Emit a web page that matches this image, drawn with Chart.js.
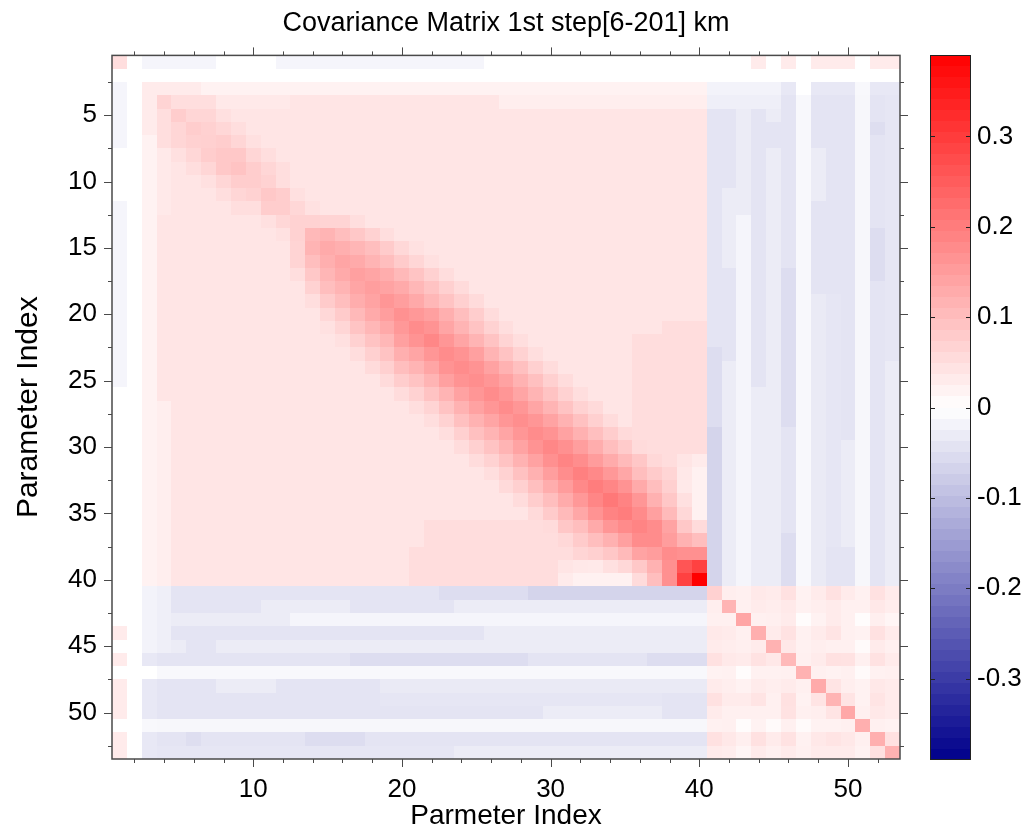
<!DOCTYPE html>
<html>
<head>
<meta charset="utf-8">
<title>Covariance Matrix</title>
<script src="https://cdn.jsdelivr.net/npm/chart.js@4.4.0/dist/chart.umd.min.js"></script>
<style>
    html, body { margin: 0; padding: 0; background: #fff; }
    #wrap { position: relative; width: 1026px; height: 833px; }
    #main { position: absolute; left: 0; top: 0; }
    #bar { position: absolute; left: 915px; top: 0; }
</style>
</head>
<body>
<div id="wrap">
    <canvas id="main" width="1026" height="833"></canvas>
    <canvas id="bar" width="111" height="833"></canvas>
</div>
<script>
/* ============================
   DATA
============================ */
const paramIndex = [1,2,3,4,5,6,7,8,9,10,11,12,13,14,15,16,17,18,19,20,21,22,23,24,25,26,27,28,29,30,31,32,33,34,35,36,37,38,39,40,41,42,43,44,45,46,47,48,49,50,51,52,53];
const xTickValues = [10, 20, 30, 40, 50];
const yTickValues = [5, 10, 15, 20, 25, 30, 35, 40, 45, 50];
const colorbarTicks = [-0.3, -0.2, -0.1, 0, 0.1, 0.2, 0.3];
const colorMin = -0.39;
const colorMax = 0.39;

// covariance[row][col], row = Parameter Index (y), col = Parmeter Index (x)
const covariance = [
[.05,0, -.015,-.015,-.015,-.015,-.015, 0,0,0,0, -.015,-.015,-.015,-.015,-.015,-.015,-.015, -.015,-.015,-.015,-.015,-.015,-.015,-.015, 0,0,0,0,0,0,0,0,0, 0,0,0,0,0,0,0,0,0, .03,0,.03,0,.03,.03,.03,0,.03,.03],
[0,0,0,0,0,0,0,0,0,0, 0,0,0,0,0,0,0,0,0,0, 0,0,0,0,0,0,0,0,0,0, 0,0,0,0,0,0,0,0,0,0, 0,0,0,0,0,0,0,0,0,0, 0,0,0],
[-.015,0, .031,.031,.031,.031, .02,.02,.02,.02,.02,.02,.02,.02,.02,.02, .02,.02,.02,.02,.02,.02,.02,.02,.02,.02, .02,.02,.02,.02,.02,.02,.02,.02,.02,.02, .02,.02,.02,.02, -.018,-.018,-.018,-.018,-.018,-.035,0,-.035,-.035,-.035,-.01,-.035,-.035],
[-.015,0, .031,.066,.05,.05,.05, .033,.033,.033,.033,.033, .04,.04,.04,.04,.04,.04,.04, .04,.04,.04,.04,.04,.04,.04, .026,.026,.026,.026,.026,.026,.026, .026,.026,.026,.026,.026,.026,.026, -.025,-.025,-.025,-.025,-.025,-.041,-.01,-.041,-.041,-.041,-.012,-.041,-.038],
[-.015,0, .031,.05,.076,.063,.063,.048, .04,.04,.04,.04,.04,.04,.04,.04,.04,.04, .04,.04,.04,.04,.04,.04,.04,.04,.04,.04, .04,.04,.04,.04,.04,.04,.04,.04,.04,.04, .04,.04, -.041,-.041,-.029,-.041,-.029,-.041,-.01,-.041,-.041,-.041,-.012,-.041,-.038],
[-.015,0, .031,.05,.063,.076,.07,.061,.05, .04,.04,.04,.04,.04,.04,.04,.04,.04,.04, .04,.04,.04,.04,.04,.04,.04,.04,.04,.04, .04,.04,.04,.04,.04,.04,.04,.04,.04,.04, .04, -.041,-.041,-.029,-.041,-.041,-.041,-.01,-.041,-.041,-.041,-.012,-.05,-.038],
[-.015,0, .02,.05,.063,.07,.072,.076,.063,.048, .04,.04,.04,.04,.04,.04,.04,.04,.04,.04, .04,.04,.04,.04,.04,.04,.04,.04,.04,.04, .04,.04,.04,.04,.04,.04,.04,.04,.04,.04, -.041,-.041,-.029,-.041,-.041,-.041,-.01,-.041,-.041,-.041,-.012,-.041,-.038],
[0,0, .02,.033,.048,.061,.076,.084,.084,.063,.05, .04,.04,.04,.04,.04,.04,.04,.04,.04,.04, .04,.04,.04,.04,.04,.04,.04,.04,.04,.04, .04,.04,.04,.04,.04,.04,.04,.04,.04, -.041,-.041,-.029,-.041,-.029,-.041,-.01,-.029,-.041,-.041,-.012,-.041,-.038],
[0,0, .02,.033,.04,.05,.063,.084,.092,.076,.063,.05, .04,.04,.04,.04,.04,.04,.04,.04,.04,.04, .04,.04,.04,.04,.04,.04,.04,.04,.04,.04, .04,.04,.04,.04,.04,.04,.04,.04, -.041,-.041,-.029,-.041,-.029,-.041,-.01,-.029,-.041,-.041,-.012,-.041,-.038],
[0,0, .02,.033,.04,.04,.048,.063,.076,.076,.069,.05, .04,.04,.04,.04,.04,.04,.04,.04,.04,.04, .04,.04,.04,.04,.04,.04,.04,.04,.04,.04, .04,.04,.04,.04,.04,.04,.04,.04, -.041,-.041,-.029,-.041,-.029,-.041,-.01,-.029,-.041,-.041,-.012,-.041,-.038],
[0,0, .02,.033,.04,.04,.04,.05,.063,.069,.084,.076,.048, .04,.04,.04,.04,.04,.04,.04,.04,.04,.04, .04,.04,.04,.04,.04,.04,.04,.04,.04,.04, .04,.04,.04,.04,.04,.04,.04, -.041,-.029,-.029,-.041,-.029,-.041,-.01,-.029,-.041,-.041,-.012,-.041,-.038],
[-.015,0, .02,.033,.04,.04,.04,.04,.05,.05,.076,.076,.061,.046, .04,.04,.04,.04,.04,.04,.04,.04,.04,.04, .04,.04,.04,.04,.04,.04,.04,.04,.04,.04, .04,.04,.04,.04,.04,.04, -.041,-.029,-.029,-.041,-.029,-.041,-.01,-.041,-.041,-.041,-.012,-.041,-.038],
[-.015,0, .02,.04,.04,.04,.04,.04,.04,.04,.048,.061,.069,.069,.066,.066,.05, .04,.04,.04,.04,.04,.04,.04,.04,.04,.04, .04,.04,.04,.04,.04,.04,.04,.04,.04,.04, .04,.04,.04, -.041,-.029,-.015,-.041,-.029,-.041,-.01,-.041,-.041,-.041,-.012,-.041,-.038],
[-.015,0, .02,.04,.04,.04,.04,.04,.04,.04,.04,.046,.069,.107,.115,.099,.084,.069,.05, .04,.04,.04,.04,.04,.04,.04,.04,.04,.04, .04,.04,.04,.04,.04,.04,.04,.04,.04,.04, .04, -.041,-.029,-.015,-.041,-.029,-.041,-.01,-.041,-.041,-.041,-.012,-.052,-.038],
[-.015,0, .02,.04,.04,.04,.04,.04,.04,.04,.04,.04, .066,.115,.13,.122,.111,.099,.08,.06,.046, .04,.04,.04,.04,.04,.04,.04,.04,.04,.04, .04,.04,.04,.04,.04,.04,.04,.04,.04, -.041,-.029,-.015,-.041,-.029,-.041,-.01,-.041,-.041,-.041,-.012,-.052,-.038],
[-.015,0, .02,.04,.04,.04,.04,.04,.04,.04,.04,.04, .066,.099,.122,.138,.13,.115,.1,.08,.063,.048, .04,.04,.04,.04,.04,.04,.04,.04,.04,.04, .04,.04,.04,.04,.04,.04,.04,.04, -.041,-.029,-.015,-.041,-.029,-.041,-.01,-.041,-.041,-.041,-.012,-.052,-.038],
[-.015,0, .02,.04,.04,.04,.04,.04,.04,.04,.04,.04, .05,.084,.111,.13,.145,.138,.125,.107,.09,.07,.052, .04,.04,.04,.04,.04,.04,.04,.04,.04,.04, .04,.04,.04,.04,.04,.04,.04, -.041,-.041,-.015,-.041,-.029,-.052,-.01,-.041,-.041,-.041,-.012,-.052,-.038],
[-.015,0, .02,.04,.04,.04,.04,.04,.04,.04,.04,.04,.04, .069,.099,.115,.138,.148,.14,.13,.11,.092,.072,.055, .04,.04,.04,.04,.04,.04,.04,.04,.04,.04, .04,.04,.04,.04,.04,.04, -.041,-.041,-.015,-.041,-.029,-.052,-.01,-.041,-.041,-.041,-.012,-.041,-.038],
[-.015,0, .02,.04,.04,.04,.04,.04,.04,.04,.04,.04,.04, .05,.08,.1,.125,.14,.161,.148,.132,.11,.092,.072,.055, .04,.04,.04,.04,.04,.04,.04,.04,.04,.04, .04,.04,.04,.04,.04, -.041,-.041,-.015,-.041,-.029,-.052,-.01,-.032,-.038,-.041,-.012,-.041,-.038],
[-.015,0, .02,.04,.04,.04,.04,.04,.04,.04,.04,.04,.04,.04, .06,.08,.107,.13,.148,.168,.158,.145,.122,.099,.076,.054, .04,.04,.04,.04,.04,.04,.04,.04,.04,.04, .04,.04,.04,.04, -.041,-.041,-.015,-.041,-.029,-.052,-.01,-.032,-.038,-.041,-.012,-.041,-.038],
[-.015,0, .02,.04,.04,.04,.04,.04,.04,.04,.04,.04,.04,.04, .046,.063,.09,.11,.132,.158,.176,.165,.138,.115,.092,.069,.05, .04,.04,.04,.04,.04,.04,.04,.04,.04,.04, .052,.052,.052, -.041,-.041,-.015,-.041,-.029,-.052,-.01,-.032,-.038,-.041,-.012,-.041,-.038],
[-.015,0, .02,.04,.04,.04,.04,.04,.04,.04,.04,.04,.04,.04,.04, .048,.07,.092,.11,.145,.165,.184,.16,.138,.115,.092,.066,.05, .04,.04,.04,.04,.04,.04,.04, .052,.052,.052,.052,.052, -.041,-.041,-.015,-.041,-.029,-.052,-.01,-.032,-.038,-.041,-.012,-.041,-.038],
[-.015,0, .02,.04,.04,.04,.04,.04,.04,.04,.04,.04,.04,.04,.04,.04, .052,.072,.092,.122,.138,.16,.176,.165,.145,.115,.092,.069,.05, .04,.04,.04,.04,.04,.04, .052,.052,.052,.052,.052, -.052,-.041,-.015,-.041,-.029,-.052,-.01,-.032,-.038,-.041,-.012,-.041,-.038],
[-.015,0, .02,.04,.04,.04,.04,.04,.04,.04,.04,.04,.04,.04,.04,.04,.04, .055,.072,.099,.115,.138,.165,.176,.165,.142,.118,.096,.072,.054, .04,.04,.04,.04,.04, .052,.052,.052,.052,.052, -.052,-.029,-.015,-.041,-.029,-.052,-.01,-.032,-.038,-.041,-.012,-.041,-.029],
[-.015,0, .02,.04,.04,.04,.04,.04,.04,.04,.04,.04,.04,.04,.04,.04,.04,.04, .055,.076,.092,.115,.145,.165,.173,.161,.142,.118,.096,.072,.054, .04,.04,.04,.04, .052,.052,.052,.052,.052, -.052,-.029,-.015,-.041,-.029,-.052,-.01,-.032,-.038,-.041,-.012,-.041,-.029],
[0,0, .02,.04,.04,.04,.04,.04,.04,.04,.04,.04,.04,.04,.04,.04,.04,.04,.04, .054,.069,.092,.115,.142,.161,.176,.161,.138,.115,.092,.069,.05, .04,.04,.04, .052,.052,.052,.052,.052, -.052,-.029,-.015,-.029,-.029,-.052,-.01,-.032,-.038,-.041,-.012,-.041,-.029],
[0,0, .02,.026, .04,.04,.04,.04,.04,.04,.04,.04,.04,.04,.04,.04,.04,.04,.04,.04, .05,.066,.092,.118,.142,.161,.176,.161,.138,.115,.092,.069,.056, .04,.04, .052,.052,.052,.052,.052, -.052,-.029,-.015,-.029,-.029,-.052,-.01,-.032,-.038,-.041,-.012,-.041,-.029],
[0,0, .02,.026, .04,.04,.04,.04,.04,.04,.04,.04,.04,.04,.04,.04,.04,.04,.04,.04,.04, .05,.069,.096,.118,.138,.161,.173,.161,.14,.118,.095,.072,.054, .04, .052,.052,.052,.052,.052, -.052,-.029,-.015,-.029,-.029,-.052,-.01,-.032,-.038,-.041,-.012,-.041,-.029],
[0,0, .02,.026, .04,.04,.04,.04,.04,.04,.04,.04,.04,.04,.04,.04,.04,.04,.04,.04,.04,.04, .05,.072,.096,.115,.138,.161,.176,.165,.142,.12,.098,.076,.056, .052,.052,.052,.052,.052, -.066,-.029,-.015,-.029,-.029,-.041,-.01,-.032,-.038,-.041,-.012,-.041,-.029],
[0,0, .02,.026, .04,.04,.04,.04,.04,.04,.04,.04,.04,.04,.04,.04,.04,.04,.04,.04,.04,.04,.04, .054,.072,.092,.115,.14,.165,.184,.17,.148,.125,.1,.08,.055,.052,.052,.052,.052, -.066,-.029,-.015,-.029,-.029,-.041,-.01,-.032,-.038,-.029,-.012,-.041,-.029],
[0,0, .02,.026, .04,.04,.04,.04,.04,.04,.04,.04,.04,.04,.04,.04,.04,.04,.04,.04,.04,.04,.04,.04, .054,.069,.092,.118,.142,.17,.188,.175,.152,.128,.105,.085,.06,.052,.04,.03, -.066,-.029,-.015,-.029,-.029,-.041,-.01,-.032,-.038,-.029,-.012,-.041,-.029],
[0,0, .02,.026, .04,.04,.04,.04,.04,.04,.04,.04,.04,.04,.04,.04,.04,.04,.04,.04,.04,.04,.04,.04,.04, .05,.069,.095,.12,.148,.175,.194,.18,.158,.135,.1,.08,.065,.035,.022, -.066,-.029,-.015,-.029,-.029,-.041,-.01,-.032,-.038,-.029,-.012,-.041,-.029],
[0,0, .02,.026, .04,.04,.04,.04,.04,.04,.04,.04,.04,.04,.04,.04,.04,.04,.04,.04,.04,.04,.04,.04,.04,.04, .056,.072,.098,.125,.152,.18,.199,.185,.165,.13,.1,.072,.033,.022, -.066,-.029,-.015,-.029,-.029,-.041,-.01,-.032,-.038,-.029,-.012,-.041,-.029],
[0,0, .02,.026, .04,.04,.04,.04,.04,.04,.04,.04,.04,.04,.04,.04,.04,.04,.04,.04,.04,.04,.04,.04,.04,.04,.04, .054,.076,.1,.128,.158,.185,.207,.19,.16,.12,.085,.048,.022, -.066,-.029,-.015,-.029,-.029,-.041,-.01,-.032,-.038,-.029,-.012,-.041,-.029],
[0,0, .02,.026, .04,.04,.04,.04,.04,.04,.04,.04,.04,.04,.04,.04,.04,.04,.04,.04,.04,.04,.04,.04,.04,.04,.04,.04, .056,.08,.105,.135,.165,.19,.199,.178,.145,.105,.06,.022, -.066,-.029,-.015,-.029,-.029,-.041,-.01,-.032,-.038,-.029,-.012,-.041,-.029],
[0,0, .02,.026, .04,.04,.04,.04,.04,.04,.04,.04,.04,.04,.04,.04,.04,.04,.04,.04,.04, .052,.052,.052,.052,.052,.052,.052,.052, .055,.085,.1,.13,.16,.178,.188,.176,.14,.084,.055, -.066,-.029,-.015,-.029,-.029,-.041,-.01,-.032,-.038,-.029,-.012,-.041,-.029],
[0,0, .02,.026, .04,.04,.04,.04,.04,.04,.04,.04,.04,.04,.04,.04,.04,.04,.04,.04,.04, .052,.052,.052,.052,.052,.052,.052,.052, .052,.06,.08,.1,.12,.145,.176,.176,.15,.118,.1, -.066,-.029,-.015,-.029,-.029,-.052,-.01,-.032,-.038,-.029,-.012,-.041,-.029],
[0,0, .02,.026, .04,.04,.04,.04,.04,.04,.04,.04,.04,.04,.04,.04,.04,.04,.04,.04, .052,.052,.052,.052,.052,.052,.052,.052,.052,.052, .052,.065,.072,.085,.105,.14,.15,.176,.17,.17, -.066,-.029,-.015,-.029,-.029,-.052,-.01,-.032,-.041,-.041,-.012,-.041,-.029],
[0,0, .02,.026, .04,.04,.04,.04,.04,.04,.04,.04,.04,.04,.04,.04,.04,.04,.04,.04, .052,.052,.052,.052,.052,.052,.052,.052,.052,.052, .04,.035,.033,.048,.06,.084,.118,.17,.26,.29, -.066,-.029,-.015,-.029,-.029,-.052,-.01,-.032,-.041,-.041,-.012,-.041,-.029],
[0,0, .02,.026, .04,.04,.04,.04,.04,.04,.04,.04,.04,.04,.04,.04,.04,.04,.04,.04, .052,.052,.052,.052,.052,.052,.052,.052,.052,.052, .03,.022,.022,.022,.022,.055,.1,.17,.29,.39, -.066,-.029,-.015,-.029,-.029,-.052,-.01,-.032,-.041,-.041,-.012,-.041,-.029],
[0,0, -.018,-.025, -.041,-.041,-.041,-.041,-.041,-.041,-.041,-.041,-.041, -.041,-.041,-.041,-.041,-.041,-.041,-.041,-.041,-.041, -.052,-.052,-.052,-.052,-.052,-.052, -.066,-.066,-.066,-.066,-.066,-.066,-.066,-.066,-.066,-.066,-.066,-.066, .07,.026,.023,.033,.031,.046,.02,.031,.046,.031,.022,.046,.031],
[0,0, -.018,-.025, -.041,-.041,-.041,-.041,-.041,-.041, -.029,-.029,-.029,-.029,-.029,-.029, -.041,-.041,-.041,-.041,-.041,-.041,-.041, -.029,-.029,-.029,-.029,-.029,-.029,-.029,-.029,-.029,-.029,-.029,-.029,-.029,-.029,-.029,-.029,-.029, .026,.115,.023,.031,.027,.033,.022,.026,.031,.023,.023,.035,.028],
[0,0, -.018,-.025, -.029,-.029,-.029,-.029,-.029,-.029,-.029,-.029, -.015,-.015,-.015,-.015,-.015,-.015,-.015,-.015,-.015,-.015,-.015,-.015,-.015,-.015, -.015,-.015,-.015,-.015,-.015,-.015,-.015,-.015,-.015,-.015,-.015,-.015,-.015,-.015, .023,.023,.138,.023,.024,.031,.005,.02,.031,.023,.005,.025,.015],
[.03,0, -.018,-.025, -.041,-.041,-.041,-.041,-.041,-.041,-.041,-.041,-.041,-.041,-.041, -.041,-.041,-.041,-.041,-.041,-.041,-.041,-.041,-.041,-.041, -.029,-.029,-.029,-.029,-.029,-.029,-.029,-.029,-.029,-.029,-.029,-.029,-.029,-.029,-.029, .033,.031,.023,.122,.031,.044,.022,.031,.041,.023,.02,.046,.031],
[0,0, -.018,-.025, -.029, -.041,-.041, -.029,-.029,-.029,-.029,-.029,-.029,-.029,-.029,-.029,-.029,-.029, -.029,-.029,-.029,-.029,-.029,-.029,-.029,-.029,-.029,-.029,-.029, -.029,-.029,-.029,-.029,-.029,-.029,-.029,-.029,-.029,-.029,-.029, .031,.027,.024,.031,.118,.035,.022,.026,.023,.023,.008,.031,.023],
[.03,0, -.035, -.041,-.041,-.041,-.041,-.041,-.041,-.041,-.041,-.041,-.041,-.041,-.041,-.041, -.052,-.052,-.052,-.052,-.052,-.052,-.052,-.052,-.052,-.052,-.052,-.052, -.041,-.041,-.041,-.041,-.041,-.041,-.041,-.041, -.052,-.052,-.052,-.052, .046,.033,.031,.044,.035,.107,.023,.031,.046,.044,.023,.044,.031],
[0,0, 0, -.01,-.01,-.01,-.01,-.01,-.01,-.01,-.01,-.01,-.01, -.01,-.01,-.01,-.01,-.01,-.01,-.01,-.01,-.01,-.01, -.01,-.01,-.01,-.01,-.01,-.01,-.01,-.01,-.01,-.01, -.01,-.01,-.01,-.01,-.01,-.01,-.01, .02,.022,.005,.022,.022,.023,.118,.023,.02,.023,.008,.022,.023],
[.03,0, -.035, -.041,-.041,-.041,-.041, -.029,-.029,-.029,-.029, -.041,-.041,-.041,-.041,-.041,-.041,-.041, -.032,-.032,-.032,-.032,-.032,-.032,-.032,-.032,-.032,-.032,-.032, -.032,-.032,-.032,-.032,-.032,-.032,-.032,-.032,-.032,-.032,-.032, .031,.026,.02,.031,.026,.031,.023,.13,.041,.026,.02,.035,.031],
[.03,0, -.035, -.041,-.041,-.041,-.041,-.041,-.041,-.041,-.041,-.041,-.041,-.041,-.041,-.041,-.041,-.041, -.038,-.038,-.038,-.038,-.038,-.038,-.038,-.038,-.038,-.038, -.038,-.038,-.038,-.038,-.038,-.038,-.038,-.038,-.038, -.041,-.041,-.041, .046,.031,.031,.041,.023,.046,.02,.041,.115,.041,.02,.041,.031],
[.03,0, -.035, -.041,-.041,-.041,-.041,-.041,-.041,-.041,-.041,-.041,-.041,-.041,-.041,-.041, -.041,-.041,-.041,-.041,-.041,-.041,-.041,-.041,-.041,-.041,-.041,-.041,-.041, -.029,-.029,-.029,-.029,-.029,-.029,-.029,-.029, -.041,-.041,-.041, .031,.023,.023,.023,.023,.044,.023,.026,.041,.133,.023,.035,.031],
[0,0, -.01, -.012,-.012,-.012,-.012,-.012,-.012,-.012,-.012,-.012,-.012, -.012,-.012,-.012,-.012,-.012,-.012,-.012,-.012,-.012,-.012, -.012,-.012,-.012,-.012,-.012,-.012,-.012,-.012,-.012,-.012, -.012,-.012,-.012,-.012,-.012,-.012,-.012, .022,.023,.005,.02,.008,.023,.008,.02,.02,.023,.122,.023,.02],
[.03,0, -.035, -.041,-.041, -.05, -.041,-.041,-.041,-.041,-.041,-.041,-.041, -.052,-.052,-.052,-.052, -.041,-.041,-.041,-.041,-.041,-.041,-.041,-.041,-.041,-.041,-.041,-.041, -.041,-.041,-.041,-.041,-.041,-.041,-.041,-.041,-.041,-.041,-.041, .046,.035,.025,.046,.031,.044,.022,.035,.041,.035,.023,.122,.046],
[.03,0, -.035, -.038,-.038,-.038,-.038,-.038,-.038,-.038,-.038,-.038,-.038, -.038,-.038,-.038,-.038,-.038,-.038,-.038,-.038,-.038,-.038, -.029,-.029,-.029,-.029,-.029,-.029,-.029,-.029,-.029, -.029,-.029,-.029,-.029,-.029,-.029,-.029,-.029, .031,.028,.015,.031,.023,.031,.023,.031,.031,.031,.02,.046,.118]
];

/* ============================
   COLOUR SCALE
============================ */
function covColor(v) {
    const t = Math.min(Math.abs(v) / colorMax, 1);
    if (v >= 0) {
        const g = Math.round(255 * (1 - t));
        return `rgb(255,${g},${g})`;
    }
    const c = Math.round(255 * (1 - t));
    const b = Math.round(255 - 116 * t);
    return `rgb(${c},${c},${b})`;
}

Chart.defaults.font.family = "'Liberation Sans', Arial, sans-serif";
Chart.defaults.color = "#000";

const cells = [];
covariance.forEach((row, r) => {
    row.forEach((v, c) => cells.push({ x: paramIndex[c], y: paramIndex[r], v }));
});

/* ============================
   PLUGINS
============================ */
const cellPlugin = {
    id: "cells",
    beforeDatasetsDraw(chart) {
        const { ctx, scales: { x, y } } = chart;
        ctx.save();
        chart.data.datasets[0].data.forEach(p => {
            const x0 = Math.round(x.getPixelForValue(p.x - 0.5));
            const x1 = Math.round(x.getPixelForValue(p.x + 0.5));
            const y0 = Math.round(y.getPixelForValue(p.y - 0.5));
            const y1 = Math.round(y.getPixelForValue(p.y + 0.5));
            ctx.fillStyle = covColor(p.v);
            ctx.fillRect(x0, Math.min(y0, y1), x1 - x0, Math.abs(y1 - y0));
        });
        ctx.restore();
    }
};

const framePlugin = {
    id: "frame",
    afterDraw(chart) {
        const { ctx, chartArea: a, scales: { x, y } } = chart;
        ctx.save();
        ctx.strokeStyle = "#4a4a4a";
        ctx.lineWidth = 1;
        ctx.beginPath();
        for (let v = 2; v <= 52; v += 2) {
            const px = Math.round(x.getPixelForValue(v)) + 0.5;
            const len = v % 10 === 0 ? 8 : 4;
            ctx.moveTo(px, a.bottom); ctx.lineTo(px, a.bottom + len);
            ctx.moveTo(px, a.top); ctx.lineTo(px, a.top - len);
        }
        for (let v = 2.5; v <= 53; v += 2.5) {
            const py = Math.round(y.getPixelForValue(v)) + 0.5;
            const len = v % 5 === 0 ? 8 : 4;
            ctx.moveTo(a.left, py); ctx.lineTo(a.left - len, py);
            ctx.moveTo(a.right, py); ctx.lineTo(a.right + len, py);
        }
        ctx.stroke();
        ctx.lineWidth = 1.5;
        ctx.strokeRect(a.left, a.top, a.right - a.left, a.bottom - a.top);
        ctx.restore();
    }
};

const colorbarPlugin = {
    id: "colorbar",
    beforeDraw(chart) {
        const { ctx, chartArea: a, scales: { y } } = chart;
        const levels = 64;
        const step = (colorMax - colorMin) / levels;
        ctx.save();
        for (let k = 0; k < levels; k++) {
            const lo = colorMin + k * step;
            const top = Math.round(y.getPixelForValue(lo + step));
            const bottom = Math.round(y.getPixelForValue(lo));
            ctx.fillStyle = covColor(lo + step / 2);
            ctx.fillRect(a.left, top, a.right - a.left, bottom - top);
        }
        ctx.strokeStyle = "#222";
        ctx.lineWidth = 1;
        ctx.strokeRect(a.left + 0.5, a.top + 0.5, a.right - a.left - 1, a.bottom - a.top - 1);
        ctx.beginPath();
        colorbarTicks.forEach(v => {
            const py = Math.round(y.getPixelForValue(v)) + 0.5;
            ctx.moveTo(a.left, py); ctx.lineTo(a.left + 5, py);
            ctx.moveTo(a.right, py); ctx.lineTo(a.right - 5, py);
        });
        ctx.stroke();
        ctx.restore();
    }
};

/* ============================
   MAIN HEATMAP
============================ */
new Chart(document.getElementById("main"), {
    type: "scatter",
    data: {
        datasets: [{ data: cells, pointRadius: 0, pointHoverRadius: 0, showLine: false }]
    },
    options: {
        responsive: false,
        animation: false,
        events: [],
        layout: { padding: { left: 0, right: 126, top: 0, bottom: 0 } },
        plugins: {
            legend: { display: false },
            tooltip: { enabled: false },
            title: {
                display: true,
                fullSize: false,
                text: "Covariance Matrix 1st step[6-201] km",
                font: { size: 27, weight: "normal" },
                color: "#000",
                padding: { top: 7, bottom: 16 }
            }
        },
        scales: {
            x: {
                type: "linear",
                position: "bottom",
                min: 0.5,
                max: 53.5,
                afterBuildTicks: s => { s.ticks = xTickValues.map(v => ({ value: v })); },
                afterFit: s => { s.height = 74; },
                grid: { display: false, drawTicks: false },
                border: { display: false },
                ticks: { font: { size: 26 }, padding: 15, maxRotation: 0, autoSkip: false },
                title: { display: true, text: "Parmeter Index", font: { size: 28 }, padding: { top: 0, bottom: 0 } }
            },
            y: {
                type: "linear",
                reverse: true,
                min: 0.5,
                max: 53.5,
                afterBuildTicks: s => { s.ticks = yTickValues.map(v => ({ value: v })); },
                afterFit: s => { s.width = 112; },
                grid: { display: false, drawTicks: false },
                border: { display: false },
                ticks: { font: { size: 26 }, padding: 15, autoSkip: false },
                title: { display: true, text: "Parameter Index", font: { size: 30 }, padding: { top: 11, bottom: 0 } }
            }
        }
    },
    plugins: [cellPlugin, framePlugin]
});

/* ============================
   COLOUR BAR
============================ */
new Chart(document.getElementById("bar"), {
    type: "scatter",
    data: { datasets: [] },
    options: {
        responsive: false,
        animation: false,
        events: [],
        layout: { padding: { left: 15, right: 0, top: 55, bottom: 73 } },
        plugins: { legend: { display: false }, tooltip: { enabled: false } },
        scales: {
            x: { display: false, min: 0, max: 1 },
            y: {
                position: "right",
                min: colorMin,
                max: colorMax,
                afterBuildTicks: s => { s.ticks = colorbarTicks.map(v => ({ value: v })); },
                afterFit: s => { s.width = 55; },
                grid: { display: false, drawTicks: false },
                border: { display: false },
                ticks: {
                    font: { size: 26 },
                    padding: 6,
                    callback: v => (v === 0 ? "0" : v.toFixed(1))
                }
            }
        }
    },
    plugins: [colorbarPlugin]
});
</script>
</body>
</html>
